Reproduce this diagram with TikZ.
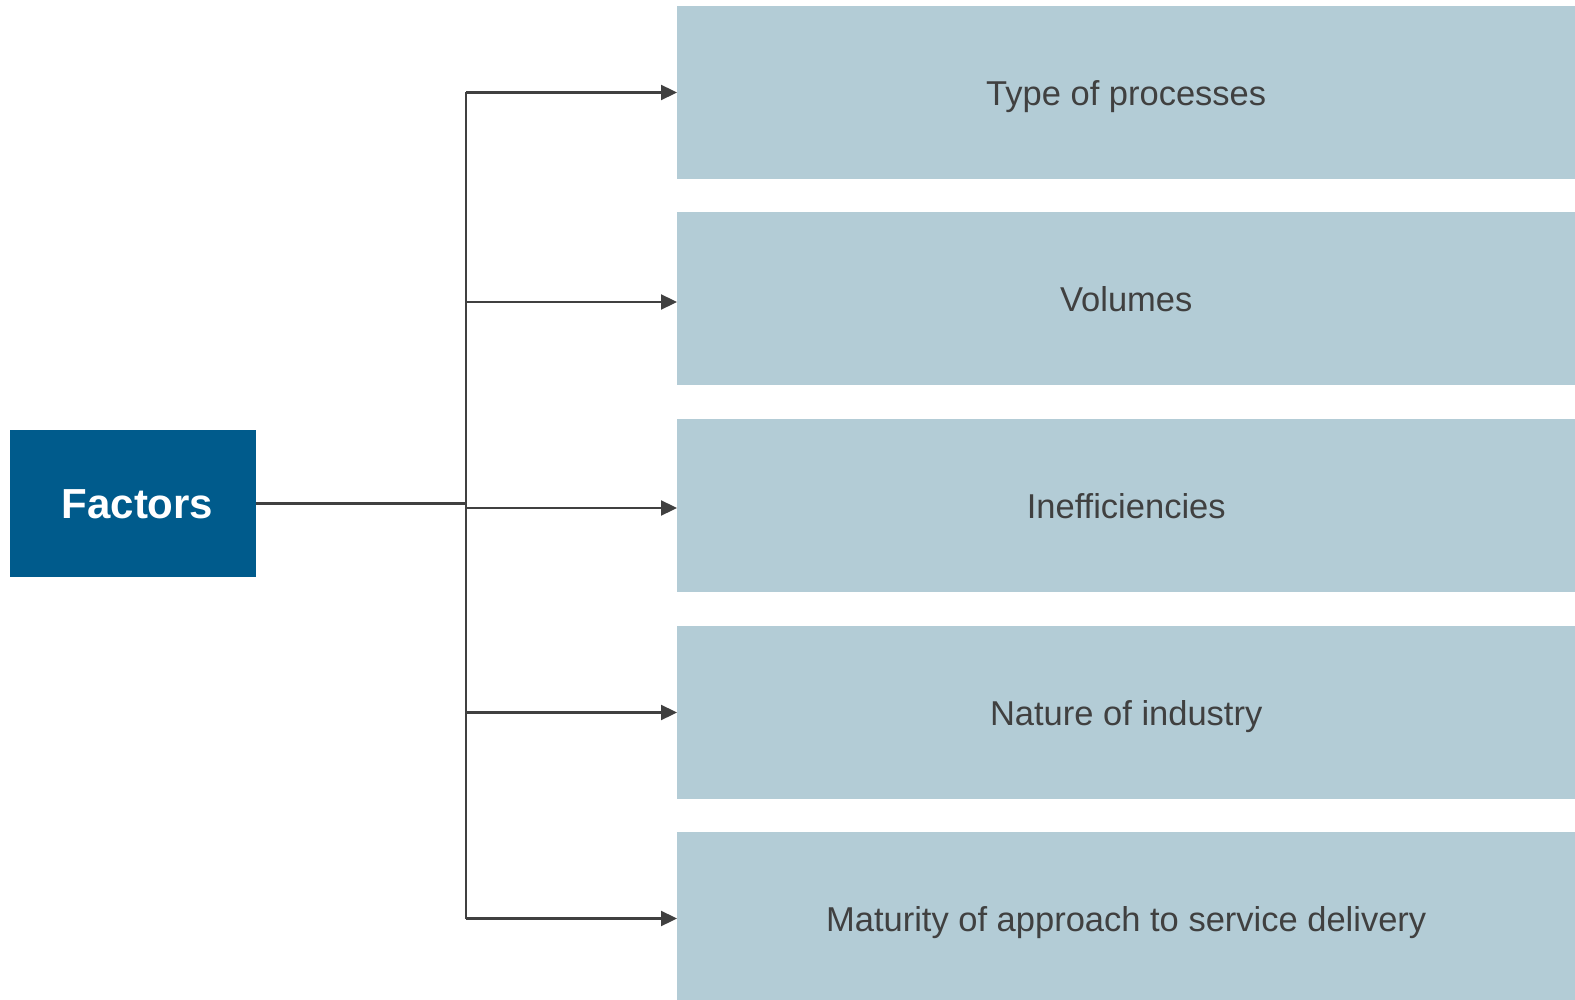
\documentclass[tikz,border=0pt]{standalone}
\usepackage{fontspec}
\setmainfont{Liberation Sans}
\usetikzlibrary{arrows.meta}
\definecolor{boxblue}{RGB}{179,204,214}
\definecolor{darkblue}{RGB}{0,91,140}
\definecolor{txtgray}{RGB}{64,64,64}
\newcommand{\lowered}[1]{\raisebox{-12.8pt}[0pt][0pt]{#1}}
\tikzset{
  item/.style={fill=boxblue, draw=none, inner sep=0pt, minimum width=898pt, minimum height=173pt,
    text=txtgray, font=\fontsize{34.5}{40}\selectfont, anchor=west},
  factorbox/.style={fill=darkblue, draw=none, inner sep=0pt, minimum width=246pt, minimum height=147pt,
    text=white, font=\fontsize{42}{48}\selectfont\bfseries},
  conn/.style={draw=txtgray, line width=2.3pt},
  arr/.style={conn, -{Triangle[length=16pt,width=15pt]}}
}
\begin{document}
\begin{tikzpicture}[x=1pt,y=-1pt]
\useasboundingbox (0,0) rectangle (1575,1000);
\node[factorbox] (f) at (133,503.5) {\hspace*{9pt}\raisebox{-15pt}[0pt][0pt]{Factors}};
\node[item] (b1) at (677,92.5) {\lowered{Type of processes}};
\node[item] (b2) at (677,299) {\lowered{Volumes}};
\node[item] (b3) at (677,505.5) {\lowered{Inefficiencies}};
\node[item] (b4) at (677,712.5) {\lowered{Nature of industry}};
\node[item] (b5) at (677,918.5) {\lowered{Maturity of approach to service delivery}};
\coordinate (tr) at (466,503);
\draw[conn] (f.east) -- (f.east -| tr);
\draw[conn] (tr |- b1.west) -- (tr |- b5.west);
\foreach \b/\dy in {b1/0,b2/3,b3/2.5,b4/0,b5/0}{
  \draw[arr] ([yshift=-\dy pt]tr |- \b.west) -- ([yshift=-\dy pt]\b.west);
}
\end{tikzpicture}
\end{document}
